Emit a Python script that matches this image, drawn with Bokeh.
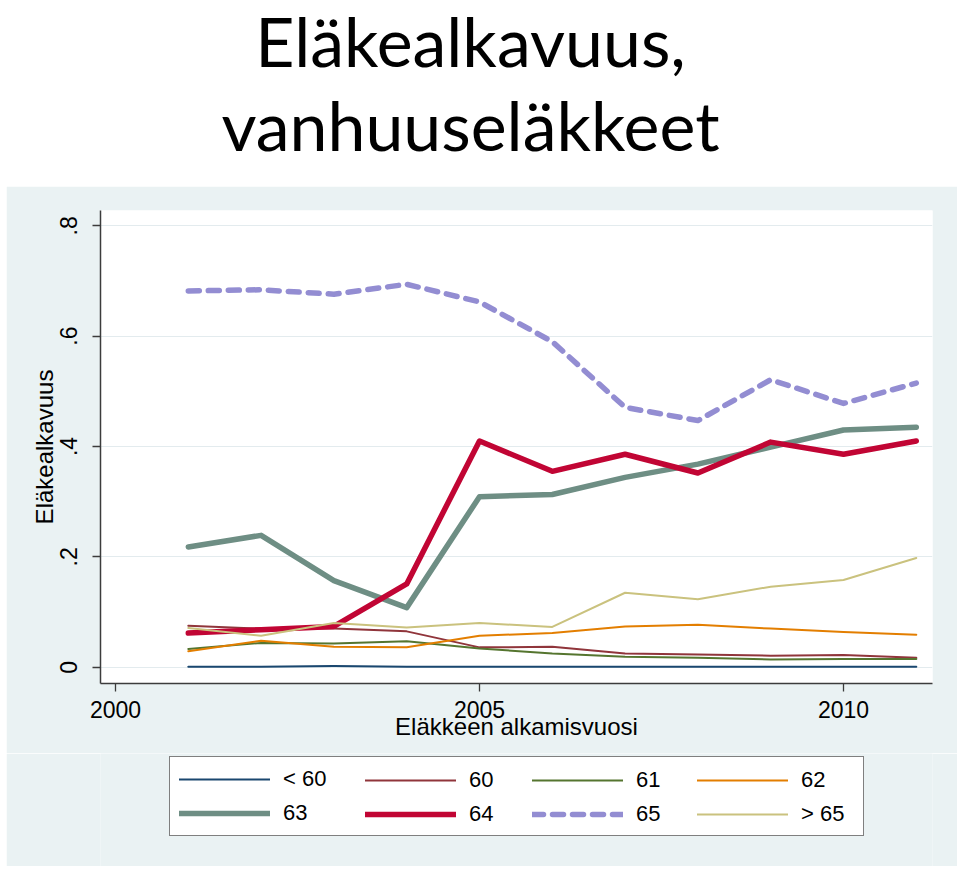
from bokeh.plotting import figure
from bokeh.models import (Legend, LegendItem, Label, FixedTicker,
                          ColumnDataSource, CustomJSTickFormatter)
from bokeh.layouts import column
from bokeh.embed import file_html
from bokeh.resources import INLINE

# ---------------- data ----------------
years = [2001, 2002, 2003, 2004, 2005, 2006, 2007, 2008, 2009, 2010, 2011]
age_lt60 = [0.001, 0.001, 0.002, 0.001, 0.001, 0.001, 0.001, 0.001, 0.001, 0.001, 0.001]
age_60 = [0.075, 0.070, 0.070, 0.065, 0.036, 0.037, 0.025, 0.023, 0.021, 0.022, 0.017]
age_61 = [0.033, 0.044, 0.043, 0.047, 0.034, 0.025, 0.019, 0.017, 0.014, 0.015, 0.015]
age_62 = [0.029, 0.048, 0.037, 0.036, 0.057, 0.062, 0.074, 0.077, 0.070, 0.064, 0.059]
age_63 = [0.218, 0.239, 0.157, 0.108, 0.309, 0.313, 0.344, 0.368, 0.399, 0.430, 0.435]
age_64 = [0.062, 0.068, 0.074, 0.151, 0.410, 0.355, 0.386, 0.352, 0.408, 0.386, 0.410]
age_65 = [0.682, 0.684, 0.676, 0.694, 0.662, 0.590, 0.471, 0.447, 0.521, 0.478, 0.515]
age_gt65 = [0.071, 0.057, 0.080, 0.072, 0.080, 0.073, 0.135, 0.123, 0.146, 0.158, 0.198]

series_labels = ["< 60", "60", "61", "62", "63", "64", "65", "> 65"]
series_values = [age_lt60, age_60, age_61, age_62, age_63, age_64, age_65, age_gt65]
x_ticks = [2000, 2005, 2010]
y_ticks = [0, 0.2, 0.4, 0.6, 0.8]
title_lines = ["Eläkealkavuus,", "vanhuuseläkkeet"]
x_title = "Eläkkeen alkamisvuosi"
y_title = "Eläkealkavuus"

# ---------------- styles ----------------
colors = ["#1a476f", "#90353b", "#55752f", "#e37e00",
          "#6e8e84", "#c10534", "#938dd2", "#cac27e"]
widths = [2, 2, 2, 2, 5.5, 5.5, 5.5, 2]
dashes = ["solid"] * 6 + ["11 9", "solid"]
REGION = "#eaf2f3"
FONT = "Liberation Sans"
W = 951
LB, RB = 94, 25
MARGIN = (0, 0, 0, 6)


def line_style(i):
    return dict(line_color=colors[i], line_width=widths[i], line_dash=dashes[i],
                line_cap="round", line_join="round")


# ---------------- title figure ----------------
t = figure(width=W, height=186, output_backend="svg", toolbar_location=None,
           title=None, x_axis_location=None, y_axis_location=None,
           min_border_left=LB, min_border_right=RB, min_border_top=0,
           min_border_bottom=0, outline_line_color=None,
           x_range=(0, 1), y_range=(0, 1), margin=MARGIN,
           background_fill_color="white", border_fill_color="white")
t.grid.visible = False
for txt, yy in zip(title_lines, [146, 62]):
    t.add_layout(Label(x=370, y=yy, x_units="screen", y_units="screen",
                       text=txt, text_align="center", text_baseline="alphabetic",
                       text_font="Lato", text_font_size="68px", text_color="black"))

# ---------------- main figure ----------------
p = figure(width=W, height=567, output_backend="svg", toolbar_location=None,
           title=None, margin=MARGIN,
           x_range=(1999.794, 2011.2225), y_range=(-0.0295, 0.8277),
           min_border_left=LB, min_border_right=RB, min_border_top=24,
           min_border_bottom=70, border_fill_color=REGION,
           background_fill_color="white", outline_line_color=None)

src = ColumnDataSource(data={"year": years, **{f"s{i}": v for i, v in enumerate(series_values)}})
for i, lab in enumerate(series_labels):
    p.line(x="year", y=f"s{i}", source=src, **line_style(i))

p.xgrid.visible = False
p.ygrid.grid_line_color = "#e3ebee"
p.ygrid.grid_line_width = 1.2

for ax in (p.xaxis[0], p.yaxis[0]):
    ax.axis_line_color = "#3c3c3c"
    ax.axis_line_width = 1.5
    ax.major_tick_line_color = "#3c3c3c"
    ax.major_tick_line_width = 1.3
    ax.major_tick_out = 8
    ax.major_tick_in = 0
    ax.minor_tick_out = 0
    ax.minor_tick_in = 0
    ax.major_label_text_font = FONT
    ax.major_label_text_color = "black"
    ax.axis_label_text_font = FONT
    ax.axis_label_text_font_style = "normal"
    ax.axis_label_text_color = "black"

p.xaxis.ticker = FixedTicker(ticks=x_ticks, minor_ticks=[])
p.xaxis.major_label_text_font_size = "23px"
p.xaxis.axis_label = x_title
p.xaxis.axis_label_text_font_size = "24px"
p.xaxis.major_label_standoff = 9
p.xaxis.axis_label_standoff = -8

p.yaxis.ticker = FixedTicker(ticks=y_ticks, minor_ticks=[])
p.yaxis.formatter = CustomJSTickFormatter(
    code="return tick == 0 ? '0' : tick.toFixed(1).replace(/^0/, '');")
p.yaxis.major_label_orientation = "vertical"
p.yaxis.major_label_text_font_size = "23px"
p.yaxis.axis_label = y_title
p.yaxis.axis_label_text_font_size = "24px"
p.yaxis.major_label_standoff = 15
p.yaxis.axis_label_standoff = 0

# ---------------- legend figure (4 columns inside one box) ----------------
lf = figure(width=W, height=113, output_backend="svg", toolbar_location=None,
            title=None, x_axis_location=None, y_axis_location=None,
            min_border_left=LB, min_border_right=RB, min_border_top=0,
            min_border_bottom=0, outline_line_color=None, margin=MARGIN,
            x_range=(0, 1), y_range=(0, 1),
            background_fill_color=REGION, border_fill_color=REGION)
lf.grid.visible = False
nan = float("nan")
swatches = [lf.line(x=[nan], y=[nan], **line_style(i)) for i in range(len(series_labels))]

common = dict(orientation="vertical", glyph_width=91, glyph_height=24,
              label_height=24, label_standoff=13, spacing=8, padding=9,
              margin=0, label_text_font=FONT, label_text_font_size="22px",
              label_text_color="black")
col_loc = [(69, 30), (265, 39), (432, 39), (597, 39)]
for c in range(4):
    items = [LegendItem(label=series_labels[c], renderers=[swatches[c]]),
             LegendItem(label=series_labels[c + 4], renderers=[swatches[c + 4]])]
    if c == 0:
        lg = Legend(items=items, location=col_loc[c], label_width=571,
                    border_line_color="black", border_line_width=1.2,
                    background_fill_color="white", background_fill_alpha=1.0,
                    **common)
    else:
        lg = Legend(items=items, location=col_loc[c],
                    border_line_color=None, background_fill_alpha=0.0,
                    **common)
    lf.add_layout(lg, "center")

layout = column(t, p, lf, spacing=0)
open("out.html", "w").write(file_html(layout, INLINE))
